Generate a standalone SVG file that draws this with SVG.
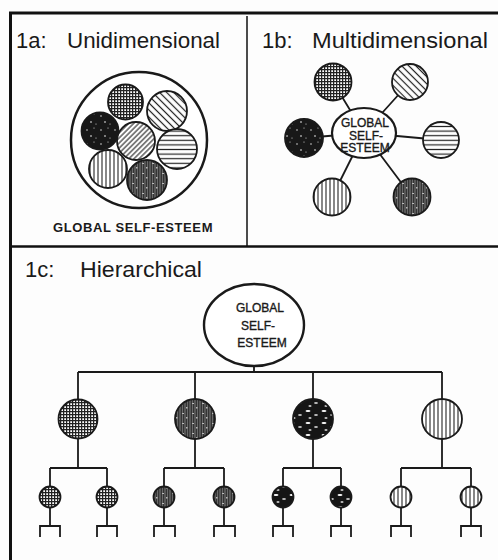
<svg xmlns="http://www.w3.org/2000/svg" width="498" height="560" viewBox="0 0 498 560">
<style>
.t{font-family:"Liberation Sans",Arial,sans-serif;fill:#1a1a1a}
.title{font-size:22px}
.lab{font-size:12px;text-anchor:middle;stroke:#1a1a1a;stroke-width:0.35}
.c{stroke:#1a1a1a;stroke-width:1.8}
.ln{stroke:#1a1a1a;stroke-width:1.8;fill:none}
.frame{stroke:#111;fill:none}
</style>
<defs>
<pattern id="pCheck" width="3" height="3" patternUnits="userSpaceOnUse">
<rect width="3" height="3" fill="#fff"/>
<path d="M0 0.6H3M0.6 0V3" stroke="#222" stroke-width="1.3"/>
</pattern>
<pattern id="pDiagB" width="5" height="5" patternUnits="userSpaceOnUse" patternTransform="rotate(45)">
<rect width="5" height="5" fill="#fff"/>
<path d="M0 2.5H5" stroke="#222" stroke-width="1.2"/>
</pattern>
<pattern id="pDiagF" width="3.6" height="3.6" patternUnits="userSpaceOnUse" patternTransform="rotate(-45)">
<rect width="3.6" height="3.6" fill="#fff"/>
<path d="M0 1.8H3.6" stroke="#222" stroke-width="1.1"/>
</pattern>
<pattern id="pHoriz" width="5" height="4.6" patternUnits="userSpaceOnUse">
<rect width="5" height="4.6" fill="#fff"/>
<path d="M0 2.3H5" stroke="#222" stroke-width="1.2"/>
</pattern>
<pattern id="pVert" width="4" height="5" patternUnits="userSpaceOnUse">
<rect width="4" height="5" fill="#fff"/>
<path d="M2 0V5" stroke="#222" stroke-width="1.1"/>
</pattern>
<pattern id="pBlack" width="14" height="14" patternUnits="userSpaceOnUse">
<rect width="14" height="14" fill="#181818"/>
<circle cx="3" cy="4" r="0.7" fill="#fff"/>
<circle cx="10" cy="2" r="0.5" fill="#fff"/>
<circle cx="7" cy="10" r="0.8" fill="#fff"/>
<circle cx="12" cy="12" r="0.5" fill="#fff"/>
</pattern>
<pattern id="pGray" width="10" height="10" patternUnits="userSpaceOnUse">
<rect width="10" height="10" fill="#6a6a6a"/>
<path d="M1.25 0V10M3.75 0V10M6.25 0V10M8.75 0V10" stroke="#222" stroke-width="1"/>
<rect x="2" y="3" width="2" height="1" fill="#bbb"/>
<rect x="6" y="7" width="1.5" height="1.5" fill="#bbb"/>
</pattern>
<pattern id="pBlob" width="16" height="12" patternUnits="userSpaceOnUse">
<rect width="16" height="12" fill="#151515"/>
<ellipse cx="4" cy="3" rx="2.5" ry="0.9" fill="#fff"/>
<ellipse cx="12" cy="7" rx="2" ry="0.8" fill="#fff"/>
<ellipse cx="6" cy="10" rx="1.6" ry="0.7" fill="#fff"/>
</pattern>
</defs>
<rect width="498" height="560" fill="#fdfdfd"/>

<g id="frame">
<path class="frame" d="M10.5 560V13H498" stroke-width="3"/>
<path class="frame" d="M10 246.5H498" stroke-width="2.6"/>
<path class="frame" d="M247 16V246" stroke-width="1.5"/>
</g>

<g id="titles">
<text class="t title" x="16" y="48">1a:</text>
<text class="t title" x="67" y="48" textLength="153" lengthAdjust="spacingAndGlyphs">Unidimensional</text>
<text class="t title" x="262" y="48">1b:</text>
<text class="t title" x="312" y="48" textLength="176" lengthAdjust="spacingAndGlyphs">Multidimensional</text>
<text class="t title" x="25" y="277">1c:</text>
<text class="t title" x="80" y="277" textLength="122" lengthAdjust="spacingAndGlyphs">Hierarchical</text>
</g>

<!-- 1a -->
<g id="node-1a-global">
<circle cx="139" cy="140" r="68" fill="#fff" stroke="#1a1a1a" stroke-width="2.5"/>
<circle class="c" cx="125.5" cy="102" r="17.5" fill="url(#pCheck)"/>
<circle class="c" cx="167" cy="111" r="20" fill="url(#pDiagB)"/>
<circle class="c" cx="100" cy="131" r="18.5" fill="url(#pBlack)"/>
<circle class="c" cx="177" cy="149" r="20" fill="url(#pHoriz)"/>
<circle class="c" cx="136" cy="141" r="19" fill="url(#pDiagF)"/>
<circle class="c" cx="108" cy="169" r="19" fill="url(#pVert)"/>
<circle class="c" cx="147" cy="180" r="20" fill="url(#pGray)"/>
<text class="t" x="53" y="232" font-size="13" font-weight="bold" letter-spacing="0.6">GLOBAL SELF-ESTEEM</text>
</g>

<!-- 1b -->
<g id="connectors-1b">
<path class="ln" d="M364 133L333 82M364 133L410 82M364 133L304 138M364 133L441 140M364 133L332 197M364 133L412 197"/>
</g>
<g id="node-1b-global">
<ellipse cx="364" cy="133" rx="32" ry="25" fill="#fff" stroke="#1a1a1a" stroke-width="2.2"/>
<text class="t lab" x="365" y="127" font-size="9">GLOBAL</text>
<text class="t lab" x="366" y="139.5" font-size="9">SELF-</text>
<text class="t lab" x="365" y="152" font-size="9">ESTEEM</text>
</g>
<g id="node-1b-d1"><circle class="c" cx="333" cy="82" r="18.5" fill="url(#pCheck)"/></g>
<g id="node-1b-d2"><circle class="c" cx="410" cy="82" r="18" fill="url(#pDiagB)"/></g>
<g id="node-1b-d3"><circle class="c" cx="304" cy="138" r="19" fill="url(#pBlack)"/></g>
<g id="node-1b-d4"><circle class="c" cx="441" cy="140" r="18" fill="url(#pHoriz)"/></g>
<g id="node-1b-d5"><circle class="c" cx="332" cy="197" r="18.5" fill="url(#pVert)"/></g>
<g id="node-1b-d6"><circle class="c" cx="412" cy="197" r="18.5" fill="url(#pGray)"/></g>

<!-- 1c -->
<g id="connectors-1c">
<path class="ln" d="M254 366V372M78 372H442M78 372V399M195 372V399M313 372V399M442 372V399"/>
<path class="ln" d="M78 439V468M50 468H107M50 468V486.5M107 468V486.5"/>
<path class="ln" d="M195 439V468M164 468H224M164 468V486.5M224 468V486.5"/>
<path class="ln" d="M313 439V468M283 468H341M283 468V486.5M341 468V486.5"/>
<path class="ln" d="M442 439V468M401 468H471M401 468V486.5M471 468V486.5"/>
<path class="ln" d="M50 507.5V526M40 537V526H60V537M107 507.5V526M97 537V526H117V537"/>
<path class="ln" d="M164 507.5V526M154 537V526H175V537M224 507.5V526M214 537V526H235V537"/>
<path class="ln" d="M283 507.5V526M273 537V526H293V537M341 507.5V526M331 537V526H351V537"/>
<path class="ln" d="M401 507.5V526M391 537V526H411V537M471 507.5V526M461 537V526H481V537"/>
</g>
<g id="node-1c-global">
<ellipse cx="254" cy="325" rx="50" ry="41" fill="#fff" stroke="#1a1a1a" stroke-width="2.4"/>
<text class="t lab" x="260" y="312" font-size="12.5">GLOBAL</text>
<text class="t lab" x="258" y="330" font-size="12.5">SELF-</text>
<text class="t lab" x="262" y="347" font-size="12.5">ESTEEM</text>
</g>
<g id="node-1c-a"><circle class="c" cx="78" cy="419" r="19.5" fill="url(#pCheck)"/></g>
<g id="node-1c-b"><circle class="c" cx="195" cy="419" r="20" fill="url(#pGray)"/></g>
<g id="node-1c-c"><circle class="c" cx="313" cy="419" r="20" fill="url(#pBlob)"/></g>
<g id="node-1c-d"><circle class="c" cx="442" cy="419" r="20" fill="url(#pVert)"/></g>
<g id="node-1c-a1"><circle class="c" cx="50" cy="497" r="10.5" fill="url(#pCheck)"/></g>
<g id="node-1c-a2"><circle class="c" cx="107" cy="497" r="10.5" fill="url(#pCheck)"/></g>
<g id="node-1c-b1"><circle class="c" cx="164" cy="497" r="10.5" fill="url(#pGray)"/></g>
<g id="node-1c-b2"><circle class="c" cx="224" cy="497" r="10.5" fill="url(#pGray)"/></g>
<g id="node-1c-c1"><circle class="c" cx="283" cy="497" r="10.5" fill="url(#pBlob)"/></g>
<g id="node-1c-c2"><circle class="c" cx="341" cy="497" r="10.5" fill="url(#pBlob)"/></g>
<g id="node-1c-d1"><circle class="c" cx="401" cy="497" r="10.5" fill="url(#pVert)"/></g>
<g id="node-1c-d2"><circle class="c" cx="471" cy="497" r="10.5" fill="url(#pVert)"/></g>
</svg>
